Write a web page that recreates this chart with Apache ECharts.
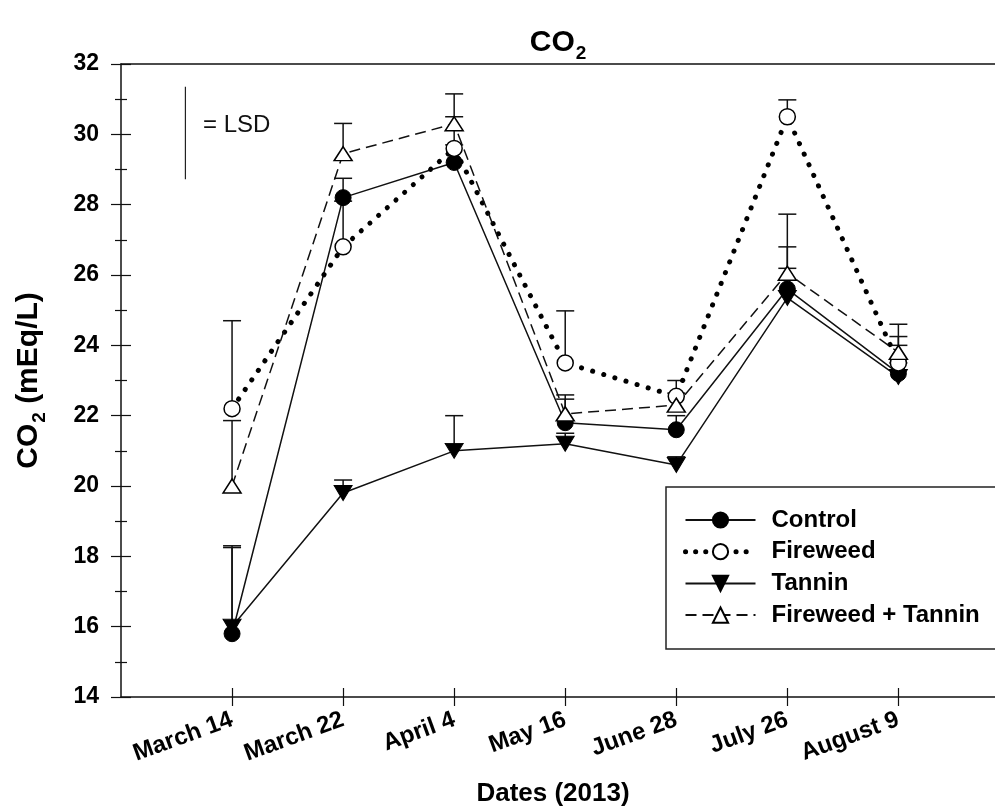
<!DOCTYPE html>
<html>
<head>
<meta charset="utf-8">
<script src="https://cdn.jsdelivr.net/npm/echarts@6/dist/echarts.min.js"></script>
<style>html,body{margin:0;padding:0;background:#fff}#c{width:995px;height:808px}</style>
</head>
<body>
<div id="c"></div>
<script>
const categories = ['March 14', 'March 22', 'April 4', 'May 16', 'June 28', 'July 26', 'August 9'];
const yTicks = [14, 16, 18, 20, 22, 24, 26, 28, 30, 32];
const control = [15.8, 28.2, 29.2, 21.8, 21.6, 25.6, 23.2];
const fireweed = [22.2, 26.8, 29.6, 23.5, 22.55, 30.5, 23.5];
const tannin = [16.0, 19.8, 21.0, 21.2, 20.6, 25.35, 23.1];
const fireTannin = [20.0, 29.45, 30.3, 22.05, 22.3, 26.05, 23.8];
const controlErrTop = [18.3, 28.75, 29.7, 22.47, 22.0, 26.8, 24.0];
const fireweedErrTop = [24.7, 28.1, 30.5, 24.98, 23.0, 30.98, 24.25];
const tanninErrTop = [18.25, 20.17, 22.0, 21.5, 20.83, 26.19, 23.5];
const fireTanninErrTop = [21.86, 30.31, 31.15, 22.59, 22.64, 27.73, 24.6];
const lsdTop = 31.35, lsdBottom = 28.72, lsdX = -0.42;

const FONT = 'Liberation Sans, Arial, sans-serif';
const pts = arr => arr.map((v, i) => [i, v]);
const errData = [];
[[control, controlErrTop], [fireweed, fireweedErrTop], [tannin, tanninErrTop], [fireTannin, fireTanninErrTop]]
  .forEach(([v, t]) => v.forEach((y, i) => errData.push([i, y, t[i]])));

const chart = echarts.init(document.getElementById('c'));
const idx = [0, 1, 2, 3, 4, 5, 6];
const xCommon = { type: 'value', min: -1, max: 6.87, splitLine: { show: false } };
const yCommon = { type: 'value', min: 14, max: 32, interval: 2, splitLine: { show: false }, position: 'left' };
const subStyle = { fontFamily: FONT, fontWeight: 'bold', fontSize: 19, color: '#000', verticalAlign: 'top', padding: [22, 0, 0, 1] };

chart.setOption({
  backgroundColor: '#fff',
  animation: false,
  title: {
    text: 'CO{s|2}', left: 553, top: 17, textAlign: 'center',
    textStyle: {
      fontFamily: FONT, fontWeight: 'bold', fontSize: 30, color: '#000',
      rich: { s: subStyle }
    }
  },
  grid: { left: 121, right: 0, top: 64, bottom: 111, containLabel: false, outerBoundsMode: 'none' },
  legend: {
    orient: 'vertical', left: 683, top: 508, itemWidth: 70, itemHeight: 19, itemGap: 7.7, padding: 0,
    data: [
      { name: 'Control' },
      { name: 'Fireweed', lineStyle: { width: 5, type: [0.1, 10], cap: 'round' } },
      { name: 'Tannin' },
      { name: 'Fireweed + Tannin' }
    ],
    textStyle: { fontFamily: FONT, fontWeight: 'bold', fontSize: 24, color: '#000', padding: [0, 0, 0, 11] }
  },
  graphic: [
    { type: 'rect', shape: { x: 666, y: 487, width: 340, height: 162 }, style: { fill: 'transparent', stroke: '#222', lineWidth: 1.5 }, z: 1 },
    { type: 'text', left: 203, top: 113, style: { text: '= LSD', font: '24px ' + FONT, fill: '#111' } }
  ],
  xAxis: [
    Object.assign({}, xCommon, {
      position: 'bottom',
      axisLine: { show: true, onZero: false, lineStyle: { color: '#111', width: 1.5 } },
      axisTick: { show: true, inside: false, length: 9, customValues: idx, lineStyle: { color: '#111', width: 1.2 } },
      axisLabel: {
        show: true, customValues: idx, rotate: 20, margin: 22,
        formatter: v => categories[Math.round(v)],
        fontFamily: FONT, fontWeight: 'bold', fontSize: 24, color: '#000'
      },
      name: 'Dates (2013)', nameLocation: 'middle', nameGap: 84,
      nameTextStyle: { fontFamily: FONT, fontWeight: 'bold', fontSize: 26, color: '#000', padding: [0, 10, 0, 0] }
    }),
    Object.assign({}, xCommon, {
      position: 'bottom',
      axisLine: { show: false, onZero: false },
      axisTick: { show: true, inside: true, length: 9, customValues: idx, lineStyle: { color: '#111', width: 1.2 } },
      axisLabel: { show: false }
    }),
    Object.assign({}, xCommon, {
      position: 'top',
      axisLine: { show: true, onZero: false, lineStyle: { color: '#111', width: 1.5 } },
      axisTick: { show: false }, axisLabel: { show: false }
    })
  ],
  yAxis: [
    Object.assign({}, yCommon, {
      axisLine: { show: true, onZero: false, lineStyle: { color: '#111', width: 1.5 } },
      axisTick: { show: true, inside: false, length: 10, lineStyle: { color: '#111', width: 1.2 } },
      minorTick: { show: true, splitNumber: 2, length: 6, lineStyle: { color: '#111', width: 1.2 } },
      axisLabel: { show: true, margin: 22, fontFamily: FONT, fontWeight: 'bold', fontSize: 23, color: '#000',
        customValues: yTicks },
      name: 'CO{s|2} (mEq/L)', nameLocation: 'middle', nameGap: 72, nameRotate: 90,
      nameTextStyle: {
        fontFamily: FONT, fontWeight: 'bold', fontSize: 30, color: '#000',
        rich: { s: subStyle }
      }
    }),
    Object.assign({}, yCommon, {
      offset: 0,
      axisLine: { show: false, onZero: false },
      axisTick: { show: true, inside: true, length: 10, lineStyle: { color: '#111', width: 1.2 } },
      minorTick: { show: true, splitNumber: 2, length: 6, lineStyle: { color: '#111', width: 1.2 } },
      axisLabel: { show: false }
    })
  ],
  series: [
    {
      name: 'LSD', type: 'line', silent: true, symbol: 'none', data: [[lsdX, lsdTop], [lsdX, lsdBottom]],
      lineStyle: { color: '#222', width: 1.2 }, z: 2
    },
    {
      name: 'errors', type: 'custom', silent: true, z: 2,
      data: errData,
      renderItem: (params, api) => {
        const p0 = api.coord([api.value(0), api.value(1)]);
        const p1 = api.coord([api.value(0), api.value(2)]);
        return {
          type: 'group', children: [
            { type: 'line', shape: { x1: p0[0], y1: p0[1], x2: p1[0], y2: p1[1] }, style: { stroke: '#111', lineWidth: 1.5 } },
            { type: 'line', shape: { x1: p1[0] - 9, y1: p1[1], x2: p1[0] + 9, y2: p1[1] }, style: { stroke: '#111', lineWidth: 1.5 } }
          ]
        };
      }
    },
    {
      name: 'Control', type: 'line', data: pts(control), z: 3,
      symbol: 'circle', symbolSize: 16,
      lineStyle: { color: '#111', width: 1.5 },
      itemStyle: { color: '#000', borderColor: '#000', borderWidth: 1 }
    },
    {
      name: 'Fireweed', type: 'line', data: pts(fireweed), z: 4,
      symbol: 'circle', symbolSize: 16,
      lineStyle: { color: '#000', width: 5, type: [0.1, 11.5], cap: 'round' },
      itemStyle: { color: '#fff', borderColor: '#000', borderWidth: 1.5 }
    },
    {
      name: 'Tannin', type: 'line', data: pts(tannin), z: 3,
      symbol: 'triangle', symbolRotate: 180, symbolSize: [18, 15],
      lineStyle: { color: '#111', width: 1.5 },
      itemStyle: { color: '#000', borderColor: '#000', borderWidth: 1 }
    },
    {
      name: 'Fireweed + Tannin', type: 'line', data: pts(fireTannin), z: 4,
      symbol: 'triangle', symbolSize: [18, 14],
      lineStyle: { color: '#111', width: 1.5, type: [11, 6] },
      itemStyle: { color: '#fff', borderColor: '#000', borderWidth: 1.5 }
    }
  ]
});
</script>
</body>
</html>
